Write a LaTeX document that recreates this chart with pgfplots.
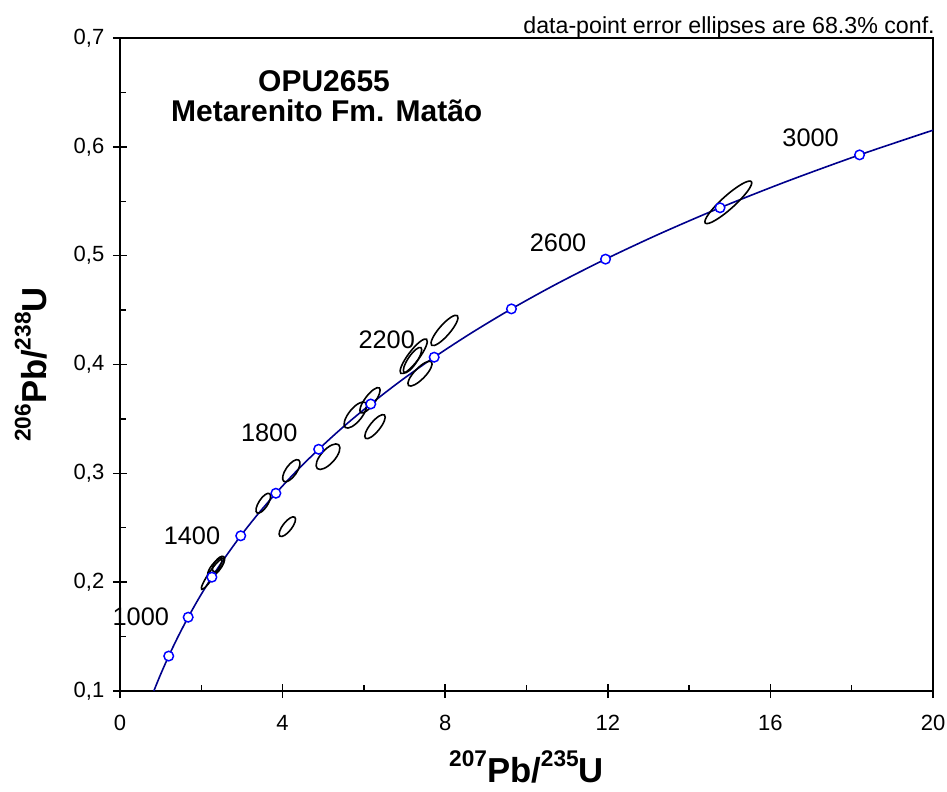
\documentclass[border=0pt]{standalone}
\usepackage{fontspec}
\setmainfont{Liberation Sans}
\usepackage{pgfplots}
\pgfplotsset{compat=1.18}

\definecolor{concblue}{RGB}{0,0,140}
\definecolor{markblue}{RGB}{0,0,255}

% ellipse mark: semi axes \ra, \rb (pt), rotation \rang
\pgfdeclareplotmark{ell}{%
  \pgfpathellipse{\pgfpointorigin}{\pgfpointpolar{\rang}{\ra pt}}{\pgfpointpolar{\rangb}{\rb pt}}%
  \pgfusepathqstroke}

\newcommand\sups[1]{\raisebox{11.5pt}{\fontsize{17}{17}\selectfont\bfseries #1}}

\begin{document}
\begin{tikzpicture}
\begin{axis}[
    name=ax,
    scale only axis, width=609.75pt, height=489.75pt,
    xmin=0, xmax=20, ymin=0.1, ymax=0.7,
    xtick={0,4,8,12,16,20}, ytick={0.1,0.2,0.3,0.4,0.5,0.6,0.7},
    minor x tick num=1, minor y tick num=1,
    xtick pos=left, ytick pos=left,
    tick align=inside, major tick length=10.5pt, minor tick length=4.5pt,
    every major x tick/.append style={yshift=-5.25pt},
    every major y tick/.append style={xshift=-5.25pt},
    tick style={black, line width=1.1pt},
    axis line style={line width=1.4pt},
    ticklabel style={font=\fontsize{16.5}{19}\selectfont},
    /pgf/number format/assume math mode=true,
    xticklabel style={yshift=-14.8pt},
    yticklabel style={xshift=-8.25pt, /pgf/number format/.cd, fixed, fixed zerofill, precision=1, use comma},
    clip=false,
    xlabel={\sups{207}Pb/\sups{235}U},
    ylabel={\sups{206}Pb/\sups{238}U},
    xlabel style={at={(axis description cs:0.5,-0.1394)}, anchor=base, font=\fontsize{26}{28}\selectfont\bfseries},
    ylabel style={at={(axis description cs:-0.0910,0.5)}, anchor=base, rotate=0, font=\fontsize{26}{28}\selectfont\bfseries},
]

% data-point error ellipses (a, b: semi axes in px, ang: degrees)
\addplot[
    scatter, only marks, mark=ell, black, line width=1.2pt,
    visualization depends on={0.75*\thisrow{a} \as \ra},
    visualization depends on={0.75*\thisrow{b} \as \rb},
    visualization depends on={\thisrow{ang} \as \rang},
    visualization depends on={\thisrow{ang}+90 \as \rangb},
    scatter/@pre marker code/.code={},
    scatter/@post marker code/.code={},
] table {
x y a b ang
2.256 0.2072 18 3 56
2.357 0.2135 11.8 4.5 51
2.423 0.2167 9 4 55
3.525 0.2725 11.5 4.5 57
4.214 0.3024 13 5.5 55
4.116 0.2510 12 4.5 52
5.117 0.3153 16 7 48
5.789 0.3536 16 6.5 51
6.150 0.3671 15.5 5 53
6.273 0.3429 15 5 51
7.225 0.4075 21.4 5.5 53
7.196 0.4041 15 4.5 56
7.380 0.3916 16.5 5.5 46
7.983 0.4313 19.6 5.5 49
14.964 0.5490 31 6.5 42
};

% concordia curve
\addplot[concblue, line width=1.2pt, smooth, mark=none] coordinates {
(0.8317,0.1000) (0.9926,0.1147) (1.1987,0.1321) (1.4264,0.1498)
(1.6774,0.1678) (1.9545,0.1861) (2.2604,0.2046) (2.5978,0.2234)
(2.9701,0.2426) (3.3811,0.2620) (3.8346,0.2817) (4.3347,0.3018)
(4.8871,0.3221) (5.4962,0.3428) (6.1687,0.3637) (6.9104,0.3851)
(7.7291,0.4067) (8.6327,0.4287) (9.6294,0.4511) (10.7298,0.4738)
(11.944,0.4968) (13.2833,0.5202) (14.761,0.5440) (16.3925,0.5681)
(18.193,0.5926) (20.000,0.6153)
};

% age markers every 200 Ma
\addplot[only marks, mark=*, mark size=3.6pt, mark options={fill=white, draw=markblue, line width=1.1pt}] coordinates {
(1.1987,0.1321) (1.6774,0.1678) (2.2604,0.2046) (2.9701,0.2426)
(3.8346,0.2817) (4.8871,0.3221) (6.1687,0.3637) (7.7291,0.4067)
(9.6294,0.4511) (11.944,0.4968) (14.761,0.5440) (18.193,0.5926)
};

\begin{scope}[every node/.style={font=\fontsize{19}{22}\selectfont, anchor=base, inner sep=0pt}]
\node at (axis cs:0.512,0.1606) {1000};
\node at (axis cs:1.771,0.2342) {1400};
\node at (axis cs:3.670,0.3291) {1800};
\node at (axis cs:6.561,0.4149) {2200};
\node at (axis cs:10.775,0.5034) {2600};
\node at (axis cs:16.99,0.6001) {3000};
\end{scope}

\node[font=\fontsize{22.5}{25}\selectfont\bfseries, anchor=base, inner sep=0pt] at (axis cs:5.02,0.6507) {OPU2655};
\node[font=\fontsize{22.5}{25}\selectfont\bfseries, anchor=base, inner sep=0pt] at (axis cs:5.085,0.6231) {Metarenito Fm. Matão};
\node[font=\fontsize{17.4}{19}\selectfont, anchor=base east, inner sep=0pt, xshift=1.5pt, yshift=3pt] at (axis cs:20,0.7) {data-point error ellipses are 68.3\% conf.};
\end{axis}
\pgfresetboundingbox
\path[use as bounding box] ([shift={(-90pt,-75pt)}]ax.south west) rectangle ([shift={(10.5pt,28.5pt)}]ax.north east);
\end{tikzpicture}
\end{document}
